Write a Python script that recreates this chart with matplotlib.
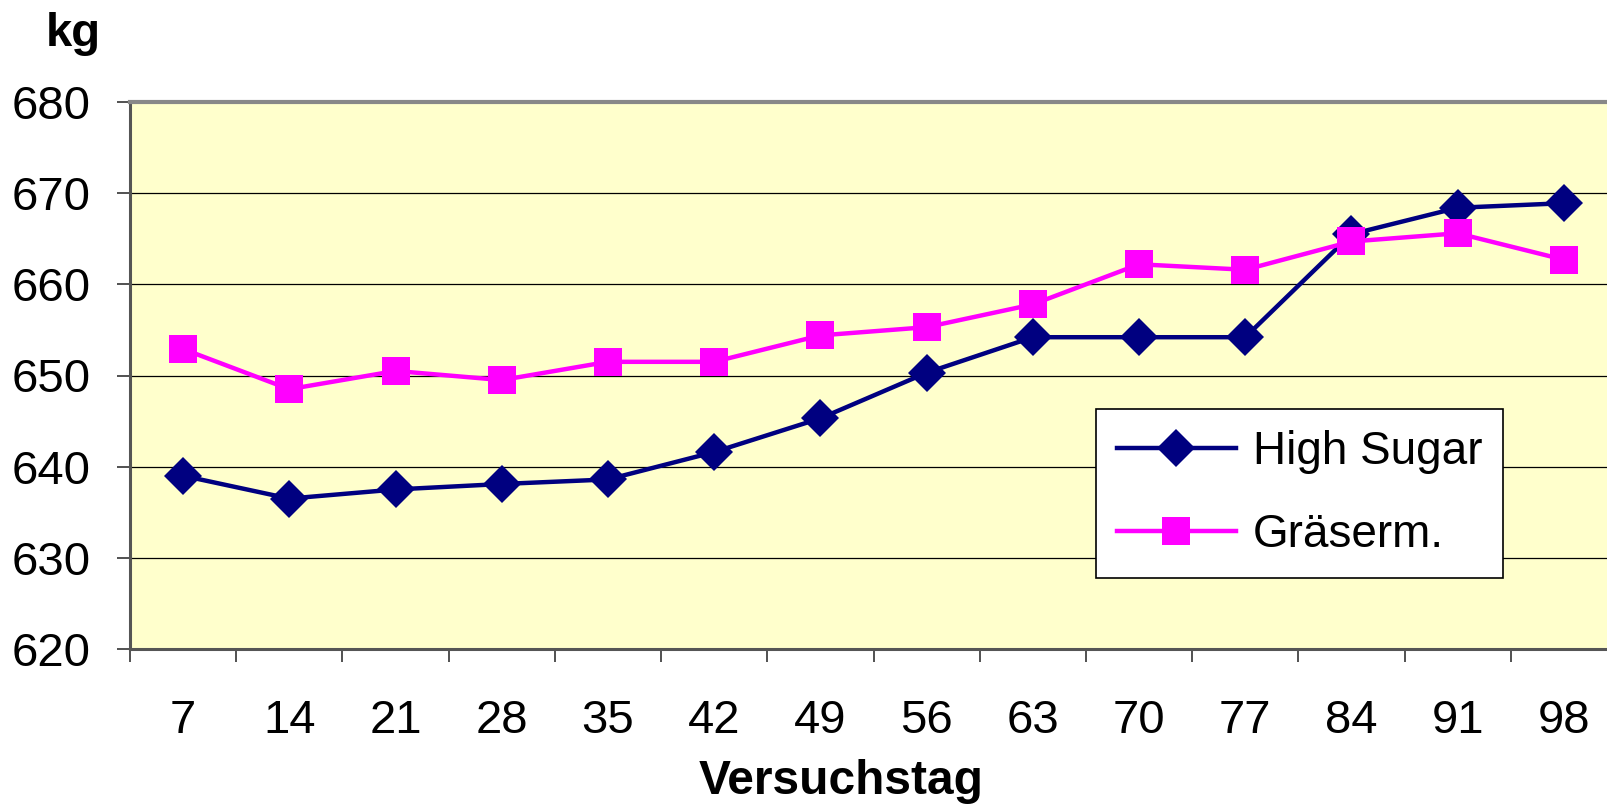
import matplotlib
matplotlib.use("Agg")
import matplotlib.pyplot as plt
from matplotlib.lines import Line2D

# Versuchstag (days of trial) and body weight in kg
days = [7, 14, 21, 28, 35, 42, 49, 56, 63, 70, 77, 84, 91, 98]
high_sugar = [639.0, 636.5, 637.5, 638.1, 638.6, 641.6, 645.3, 650.3,
              654.2, 654.2, 654.2, 665.5, 668.4, 668.9]
graeserm = [652.9, 648.5, 650.5, 649.5, 651.5, 651.5, 654.4, 655.3,
            657.8, 662.2, 661.6, 664.7, 665.6, 662.7]
y_ticks = [620, 630, 640, 650, 660, 670, 680]

plt.rcParams['font.family'] = ['Liberation Sans', 'DejaVu Sans']

W, H = 1607, 809
fig = plt.figure(figsize=(W / 100, H / 100), dpi=100)
left, right, top, bottom = 130, 1617, 102, 649
ax = fig.add_axes([left / W, 1 - bottom / H, (right - left) / W, (bottom - top) / H])
ax.set_facecolor('#FFFFCC')

hs_style = dict(color='#000080', lw=3.2, marker='D', markersize=19, markeredgewidth=0)
gr_style = dict(color='#FF00FF', lw=3.2, marker='s', markersize=19.5, markeredgewidth=0)

x = list(range(len(days)))
ax.plot(x, high_sugar, label='High Sugar', zorder=3, **hs_style)
ax.plot(x, graeserm, label='Gräserm.', zorder=3, **gr_style)

ax.set_ylim(620, 680)
ax.set_yticks(y_ticks)
ax.yaxis.grid(True, color='black', lw=0.9)
ax.set_axisbelow(True)
ax.tick_params(axis='y', length=9.5, width=1.2, color='#333333', pad=19,
               labelsize=34)

ax.set_xlim(-0.5, len(days) - 0.5)
ax.set_xticks([i - 0.5 for i in range(len(days) + 1)])
ax.set_xticklabels([])
ax.set_xticks(x, minor=True)
ax.set_xticklabels([str(d) for d in days], minor=True)
ax.tick_params(axis='x', which='major', length=9.5, width=1.2, color='#333333')
ax.tick_params(axis='x', which='minor', length=0, pad=36, labelsize=34)

for side in ('left', 'bottom'):
    ax.spines[side].set_color('#555555')
    ax.spines[side].set_linewidth(2.2)
ax.spines['top'].set_color('#888888')
ax.spines['top'].set_linewidth(3)
ax.spines['right'].set_visible(False)

fig.text(73 / W, 1 - 34 / H, 'kg', ha='center', va='center',
         fontsize=34, fontweight='bold')
fig.text(841 / W, 1 - 781 / H, 'Versuchstag', ha='center', va='center',
         fontsize=34.5, fontweight='bold')

handles = [Line2D([], [], **hs_style), Line2D([], [], **gr_style)]
leg = ax.legend(handles, ['High Sugar', 'Gräserm.'], loc='upper left',
                bbox_to_anchor=((1096 - left) / (right - left), (bottom - 409) / (bottom - top)),
                fontsize=33, frameon=True, fancybox=False, framealpha=1,
                edgecolor='black', borderpad=0.45, handlelength=2.6,
                handletextpad=0.38, labelspacing=0.86, borderaxespad=0)
leg.get_frame().set_linewidth(1.2)

fig.savefig('out.png', dpi=100)
